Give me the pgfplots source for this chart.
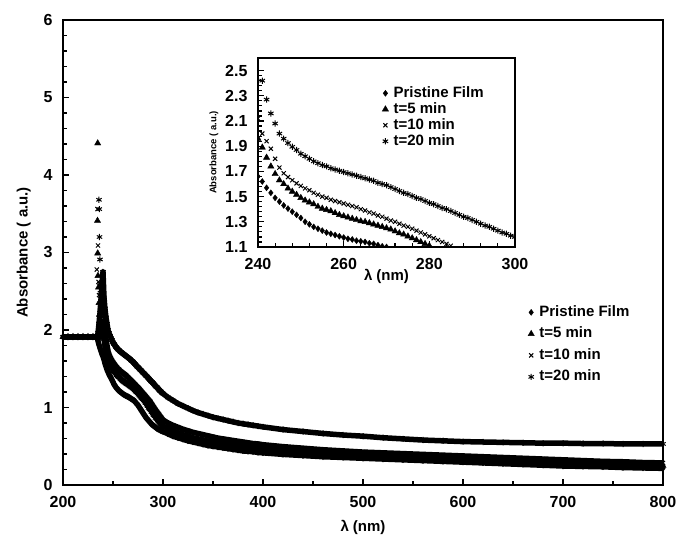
\documentclass[border=0pt]{standalone}
\usepackage{fontspec}
\setmainfont{Liberation Sans}
\usepackage{pgfplots}
\usepackage{pgfplotstable}
\pgfplotsset{compat=1.18}

\newcommand\lab{\fontsize{15}{18}\selectfont\bfseries}
\newcommand\ticklab{\fontsize{16}{19}\selectfont\bfseries}
\newcommand\smalllab{\fontsize{9.5}{11}\selectfont\bfseries}

% x = wavelength (nm), p = pristine film, a = t=5 min, b = t=10 min, c = t=20 min
\pgfplotstableread{
x p a b c
200 1.91 1.91 1.91 1.91
205 1.91 1.91 1.91 1.91
210 1.91 1.91 1.91 1.91
215 1.91 1.91 1.91 1.91
220 1.91 1.91 1.91 1.91
225 1.91 1.91 1.91 1.91
230 1.91 1.91 1.91 1.91
233 1.91 1.91 1.91 1.91
234 1.91 1.91 1.91 1.91
235 1.86 1.90 1.92 1.96
236 1.81 1.91 1.97 2.08
237 1.77 1.93 2.03 2.22
238 1.73 1.95 2.08 2.40
239 1.69 1.96 2.10 2.58
240 1.66 1.96 2.12 2.75
241 1.62 1.89 2.00 2.42
242 1.57 1.81 1.94 2.27
243 1.53 1.74 1.88 2.16
244 1.49 1.68 1.80 2.08
245 1.46 1.63 1.73 2.00
246 1.43 1.60 1.685 1.96
247 1.405 1.565 1.655 1.925
248 1.38 1.54 1.63 1.895
249 1.355 1.515 1.605 1.87
250 1.33 1.49 1.585 1.84
251 1.30 1.47 1.565 1.82
252 1.28 1.455 1.55 1.80
253 1.26 1.44 1.53 1.78
254 1.245 1.42 1.515 1.765
255 1.23 1.405 1.50 1.75
256 1.215 1.395 1.49 1.74
257 1.205 1.385 1.475 1.725
258 1.195 1.37 1.465 1.715
259 1.185 1.355 1.455 1.705
260 1.175 1.345 1.445 1.695
261 1.165 1.335 1.435 1.685
262 1.16 1.325 1.425 1.675
263 1.15 1.315 1.415 1.665
264 1.145 1.305 1.40 1.655
265 1.14 1.30 1.39 1.645
266 1.13 1.29 1.375 1.635
267 1.125 1.28 1.365 1.625
268 1.115 1.27 1.35 1.61
269 1.105 1.26 1.34 1.60
270 1.10 1.25 1.325 1.59
271 1.09 1.24 1.31 1.575
272 1.075 1.225 1.30 1.56
273 1.06 1.21 1.285 1.545
274 1.045 1.20 1.27 1.53
275 1.03 1.185 1.26 1.52
276 1.01 1.17 1.245 1.505
277 0.99 1.155 1.23 1.49
278 0.97 1.14 1.215 1.48
279 0.95 1.125 1.20 1.465
280 0.93 1.11 1.185 1.45
281 0.91 1.095 1.17 1.44
282 0.89 1.08 1.155 1.425
283 0.87 1.06 1.14 1.41
284 0.855 1.04 1.125 1.40
285 0.84 1.02 1.11 1.385
286 0.825 1.00 1.095 1.37
287 0.81 0.98 1.08 1.355
288 0.795 0.965 1.06 1.34
289 0.78 0.945 1.04 1.33
290 0.77 0.925 1.02 1.315
291 0.76 0.905 1.00 1.30
292 0.75 0.89 0.98 1.285
293 0.74 0.87 0.96 1.27
294 0.73 0.855 0.945 1.26
295 0.72 0.835 0.925 1.245
296 0.715 0.82 0.91 1.23
297 0.71 0.805 0.89 1.215
298 0.70 0.79 0.875 1.205
299 0.695 0.775 0.855 1.19
300 0.69 0.76 0.84 1.18
305 0.66 0.73 0.80 1.13
310 0.63 0.70 0.77 1.09
315 0.61 0.675 0.745 1.05
320 0.59 0.65 0.72 1.02
325 0.57 0.63 0.70 0.99
330 0.555 0.61 0.68 0.96
335 0.54 0.595 0.665 0.935
340 0.525 0.58 0.65 0.915
345 0.51 0.565 0.635 0.895
350 0.50 0.555 0.62 0.875
355 0.49 0.545 0.605 0.86
360 0.48 0.535 0.595 0.845
365 0.47 0.525 0.585 0.83
370 0.46 0.515 0.575 0.815
375 0.45 0.505 0.565 0.80
380 0.44 0.495 0.555 0.79
385 0.435 0.49 0.545 0.78
390 0.43 0.48 0.535 0.77
395 0.42 0.475 0.53 0.76
400 0.415 0.47 0.52 0.75
420 0.395 0.445 0.495 0.715
440 0.38 0.425 0.475 0.69
460 0.365 0.41 0.455 0.665
480 0.355 0.395 0.44 0.645
500 0.345 0.385 0.425 0.63
520 0.335 0.375 0.415 0.61
540 0.325 0.365 0.405 0.595
560 0.315 0.355 0.395 0.58
580 0.305 0.345 0.385 0.57
600 0.295 0.335 0.375 0.56
620 0.285 0.325 0.365 0.555
640 0.275 0.315 0.355 0.55
660 0.265 0.305 0.345 0.545
680 0.255 0.295 0.335 0.54
700 0.245 0.285 0.325 0.54
720 0.24 0.275 0.315 0.535
740 0.235 0.27 0.305 0.535
760 0.225 0.26 0.30 0.53
780 0.22 0.255 0.29 0.53
800 0.215 0.25 0.285 0.53
}\spectra

\pgfplotsset{
  uvstyle/.style={
    scale only axis,
    tick pos=left, tick align=inside,
    major tick length=6pt, minor tick length=4pt,
    every tick/.style={black, line width=1.2pt},
    axis line style={line width=2pt},
    /pgf/number format/assume math mode=true,
    tick label style={font=\ticklab},
    xticklabel style={yshift=-8pt},
    yticklabel style={xshift=-7pt},
    label style={font=\lab},
    legend cell align=left,
    legend image code/.code={\draw[##1] plot coordinates {(4pt,0pt)}; \path (0pt,0pt) (8pt,0pt);},
  },
  pf/.style={black, only marks, mark=diamond*, mark size=3pt},
  t5/.style={black, only marks, mark=triangle*, mark size=3.6pt},
  t10/.style={black, only marks, mark=x, mark size=2.9pt, mark options={line width=1pt}},
  t20/.style={black, only marks, mark=asterisk, mark size=3.1pt, mark options={line width=1pt}},
  band/.style={black, line width=5.5pt, line join=round, forget plot},
}

\begin{document}
\begin{tikzpicture}
\begin{axis}[
  uvstyle,
  width=600pt, height=465pt,
  xmin=200, xmax=800, ymin=0, ymax=6,
  xtick={200,300,...,800}, ytick={0,1,...,6},
  minor x tick num=1, minor y tick num=4,
  xlabel={λ (nm)}, ylabel={Absorbance ( a.u.)},
  xlabel style={yshift=-5pt},
  ylabel style={yshift=6pt},
  legend style={draw=none, fill=none, at={(0.768,0.391)}, anchor=north west,
    font=\lab, row sep=7.5pt,
    nodes={inner sep=0pt, text height=11pt, text depth=3pt},
    /tikz/every odd column/.append style={column sep=4pt}},
]
\addplot[band] table[y=p]{\spectra};
\addplot[band] table[y=a]{\spectra};
\addplot[band] table[y=b]{\spectra};
\addplot[band] table[y=c]{\spectra};
\addplot[pf] table[y=p]{\spectra};
\addplot[t5] table[y=a]{\spectra};
\addplot[t10] table[y=b]{\spectra};
\addplot[t20] table[y=c]{\spectra};
\legend{Pristine Film, t=5 min, t=10 min, t=20 min}
% scattered readings near the detector cut-off
\addplot[t5, forget plot] coordinates {(234.7,4.41) (234.5,3.41) (234.7,2.99) (235,2.70) (235.5,2.55) (236,2.35) (236.5,2.20) (237,2.10)};
\addplot[t10, forget plot] coordinates {(234.5,3.56) (235,3.09) (233.8,2.78) (235.5,2.62) (236,2.45) (237,2.30) (237.5,2.22)};
\addplot[t20, forget plot] coordinates {(236,3.68) (236.3,3.56) (236.5,3.20) (237,2.91) (237,2.60) (237.5,2.48) (238,2.37) (238.5,2.26) (239,2.17)};
\end{axis}

\begin{axis}[
  uvstyle,
  at={(195pt,238pt)}, anchor=south west,
  width=257pt, height=189pt,
  xmin=240, xmax=300, ymin=1.1, ymax=2.6,
  xtick={240,260,280,300}, ytick={1.1,1.3,1.5,1.7,1.9,2.1,2.3,2.5},
  minor x tick num=4, minor y tick num=4,
  yticklabel style={/pgf/number format/.cd, fixed, fixed zerofill, precision=1},
  axis background/.style={fill=white},
  clip marker paths=true,
  restrict x to domain=238:302,
  xlabel={λ (nm)}, ylabel={Absorbance ( a.u.)},
  xlabel style={yshift=8pt},
  ylabel style={font=\smalllab},
  legend style={draw=none, fill=none, at={(0.467,0.862)}, anchor=north west,
    font=\lab, row sep=2pt,
    nodes={inner sep=0pt, text height=11pt, text depth=3pt},
    /tikz/every odd column/.append style={column sep=4pt}},
]
\addplot[pf] table[y=p]{\spectra};
\addplot[t5] table[y=a]{\spectra};
\addplot[t10] table[y=b]{\spectra};
\addplot[t20] table[y=c]{\spectra};
\legend{Pristine Film, t=5 min, t=10 min, t=20 min}
\end{axis}
\pgfresetboundingbox
\path (-63pt,-59pt) rectangle (614pt,485pt);
\end{tikzpicture}
\end{document}
